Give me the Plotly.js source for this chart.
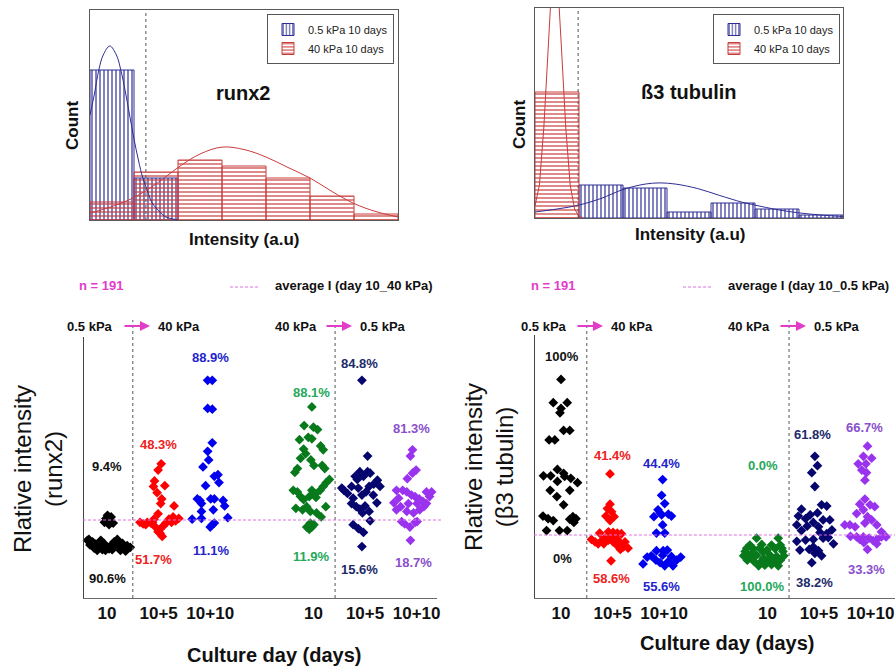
<!DOCTYPE html>
<html><head><meta charset="utf-8">
<script src="https://cdn.plot.ly/plotly-3.0.1.min.js"></script>
<style>html,body{margin:0;padding:0;background:#fff}#chart{width:895px;height:669px}</style>
</head><body><div id="chart"></div>
<script>
const W = 895, H = 669;
const FONT = 'Liberation Sans, Arial, sans-serif';

// ---------- histogram data (counts per intensity bin) ----------
const binCenters = [0.5, 1.5, 2.5, 3.5, 4.5, 5.5, 6.5];
const runx2Soft  = [50, 14, null, null, null, null, null];
const runx2Stiff = [6, 16, 20, 18, 14, 8, 2];
const b3Soft     = [null, 11, 10, 2, 5, 3, 1];
const b3Stiff    = [42, null, null, null, null, null, null];

// fitted distribution curves
const runx2SoftFitX  = [0, 0.1, 0.2, 0.3, 0.45, 0.6, 0.7, 0.8, 0.9, 1.0, 1.1, 1.2, 1.3, 1.4, 1.5, 1.6, 1.7, 1.8, 1.9, 2.0];
const runx2SoftFitY  = [35, 42, 50, 55, 58, 55, 50, 43, 35, 27, 20, 14, 10, 6, 4, 2.5, 1.2, 0.6, 0.3, 0];
const runx2StiffFitX = [0, 0.5, 1.0, 1.5, 2.0, 2.5, 3.0, 3.5, 4.0, 4.5, 5.0, 5.5, 6.0, 6.5, 7.0];
const runx2StiffFitY = [2.3, 4.5, 7.5, 12, 17.5, 22, 24.3, 23.5, 21, 17.5, 14, 9.5, 5.5, 2.8, 1];
const b3StiffFitX = [0, 0.1, 0.2, 0.3, 0.35, 0.45, 0.55, 0.6, 0.7, 0.8, 0.9, 1.0, 1.1];
const b3StiffFitY = [4, 11, 30, 57, 70, 82, 70, 57, 30, 11, 3, 0.6, 0];
const b3SoftFitX  = [0, 0.5, 1.0, 1.5, 2.0, 2.5, 2.84, 3.2, 3.7, 4.2, 4.7, 5.0, 5.5, 6.0, 6.5, 7.0];
const b3SoftFitY  = [2, 3, 4.3, 6.5, 9.5, 11.3, 11.7, 11.3, 9.8, 7.5, 5.3, 4.3, 2.8, 1.7, 1.0, 0.5];

// ---------- scatter data ----------
const catPos = [1, 2, 3, 5, 6, 7];
const catLabels = ['10', '10+5', '10+10', '10', '10+5', '10+10'];

// runx2 : jitter (category units) and relative intensity
const r2A_dx = [0.01,0.08,-0.02,-0.05,0.12,0.04,-0.35,-0.28,-0.33,-0.22,-0.15,-0.09,-0.25,-0.06,0.01,-0.03,0.07,0.14,0.20,0.17,0.23,0.30,0.33,0.39,0.45,0.10,0.26,0.36,-0.19,-0.12,0.04,-0.38];
const r2A_y  = [1.06,1.04,1.02,0.97,0.96,0.94,0.75,0.72,0.68,0.69,0.66,0.62,0.64,0.70,0.65,0.61,0.67,0.72,0.75,0.69,0.66,0.70,0.65,0.67,0.65,0.62,0.61,0.60,0.61,0.74,0.63,0.74];
const r2B_dx = [0.05,-0.01,-0.08,-0.10,0.12,-0.03,0.06,0.04,0.30,-0.01,0.28,0.39,-0.09,0.20,-0.36,-0.30,-0.22,-0.15,-0.06,0.04,0.14,0.25,-0.01,0.07,0.03,-0.25,-0.12,0.33,0.10];
const r2B_y  = [1.72,1.64,1.50,1.43,1.44,1.35,1.27,1.21,1.18,1.08,1.04,1.02,1.01,1.01,0.97,0.95,0.97,0.96,0.91,0.89,0.96,0.97,0.85,0.79,0.83,0.94,0.97,0.99,0.93];
const r2C_dx = [-0.05,0.04,-0.05,0.04,0.04,-0.05,-0.03,-0.14,0.08,0.15,0.17,-0.09,-0.25,-0.20,-0.17,0.01,0.08,0.25,0.28,-0.17,0.06,-0.35,-0.17,0.34,0.00,0.08,0.04];
const r2C_y  = [2.79,2.79,2.43,2.42,1.99,1.88,1.77,1.68,1.56,1.58,1.48,1.44,1.27,1.25,1.21,1.27,1.27,1.25,1.18,1.11,1.13,1.01,1.02,1.03,0.91,0.96,0.94];
const r2D_dx = [-0.03,-0.18,0.00,0.08,-0.03,-0.27,-0.10,0.14,0.19,-0.19,-0.15,-0.25,-0.05,0.01,0.17,0.22,-0.31,-0.36,0.31,0.25,-0.39,-0.31,-0.03,0.03,0.13,0.19,-0.25,-0.19,-0.08,0.05,0.24,-0.34,-0.21,0.06,0.15,-0.13,-0.06,-0.13,-0.08,-0.03,0.01,-0.06];
const r2D_y  = [2.45,2.21,2.19,2.16,2.04,2.03,2.06,1.95,1.90,1.91,1.85,1.79,1.77,1.70,1.70,1.66,1.66,1.61,1.52,1.48,1.38,1.36,1.38,1.33,1.38,1.43,1.30,1.26,1.30,1.29,1.17,1.15,1.13,1.09,1.04,1.17,1.11,0.91,0.88,0.91,0.94,0.96];
const r2E_dx = [-0.06,0.05,-0.10,0.05,0.10,-0.19,-0.15,-0.03,0.24,0.17,0.29,-0.45,-0.41,-0.34,-0.26,-0.13,0.08,0.02,-0.23,-0.06,0.16,0.23,-0.26,-0.17,-0.10,0.00,0.08,-0.05,-0.23,-0.13,-0.03,0.10,-0.06];
const r2E_y  = [2.79,1.82,1.62,1.62,1.60,1.56,1.52,1.56,1.51,1.46,1.43,1.41,1.38,1.34,1.43,1.41,1.43,1.36,1.28,1.32,1.32,1.22,1.21,1.17,1.14,1.18,1.11,1.09,0.94,0.89,0.84,0.99,0.66];
const r2F_dx = [-0.08,-0.12,-0.01,-0.08,-0.18,-0.39,-0.27,-0.19,0.19,0.29,-0.44,-0.35,-0.10,-0.03,0.05,0.12,0.19,0.25,0.01,-0.31,-0.16,-0.06,0.06,0.14,-0.19,-0.39,-0.29,-0.23,-0.13,-0.03,0.01,-0.12];
const r2F_y  = [1.90,1.82,1.64,1.60,1.53,1.38,1.38,1.36,1.36,1.36,1.22,1.28,1.32,1.30,1.27,1.24,1.21,1.30,1.21,1.17,1.21,1.09,1.13,1.17,1.11,1.13,0.98,0.95,0.91,0.97,0.98,0.74];

// beta3 tubulin
const b3A_dx = [0.00,-0.15,0.12,0.00,-0.02,0.05,0.17,-0.23,-0.12,-0.07,-0.34,-0.20,0.05,0.07,-0.07,0.19,0.32,-0.21,0.17,-0.08,0.05,-0.35,-0.25,-0.15,0.23,0.17,0.29,0.25,-0.28,-0.03,0.12];
const b3A_y  = [3.47,3.10,3.10,3.01,2.94,2.66,2.66,2.51,2.51,2.04,1.94,1.94,1.98,1.93,1.85,1.90,1.83,1.71,1.71,1.61,1.48,1.30,1.26,1.23,1.29,1.25,1.26,1.20,1.07,1.07,1.07];
const b3B_dx = [-0.05,-0.05,-0.10,-0.02,-0.13,0.03,-0.05,-0.25,-0.08,0.01,0.09,0.17,-0.41,-0.34,-0.28,-0.21,-0.15,-0.08,-0.02,0.01,0.09,0.14,0.21,0.30,0.24,0.08,0.15,-0.17,-0.03];
const b3B_y  = [1.97,1.49,1.42,1.37,1.30,1.29,1.23,1.03,1.05,1.04,1.03,1.02,0.93,0.89,0.86,0.91,0.95,0.92,0.97,0.89,0.93,0.87,0.81,0.79,0.89,0.84,0.77,0.86,0.59];
const b3C_dx = [-0.03,-0.05,0.01,-0.12,-0.20,-0.05,0.08,0.14,-0.03,-0.15,0.01,-0.08,-0.41,-0.33,-0.25,-0.16,-0.08,-0.15,-0.02,0.06,-0.03,0.08,0.14,0.24,0.32,0.01,0.17];
const b3C_y  = [1.88,1.63,1.50,1.40,1.29,1.32,1.33,1.30,1.16,1.03,1.03,1.35,0.54,0.65,0.67,0.60,0.56,0.75,0.75,0.76,0.68,0.58,0.66,0.60,0.65,0.51,0.51];
const b3D_dx = [-0.21,0.21,-0.34,-0.11,0.08,0.25,-0.43,-0.27,-0.15,-0.01,0.15,0.30,-0.46,-0.34,-0.21,-0.08,0.05,0.18,0.32,-0.39,-0.26,-0.13,0.00,0.12,0.25,-0.17,-0.05,0.08,0.21,-0.30,-0.08,0.28,-0.40,0.05];
const b3D_y  = [0.95,0.95,0.84,0.85,0.84,0.84,0.74,0.78,0.79,0.76,0.78,0.74,0.67,0.66,0.68,0.63,0.68,0.66,0.67,0.60,0.58,0.57,0.59,0.58,0.60,0.51,0.52,0.53,0.51,0.71,0.73,0.79,0.79,0.63];
const b3E_dx = [-0.08,-0.03,-0.14,-0.08,0.05,0.15,-0.34,-0.03,-0.17,-0.40,-0.26,0.08,0.21,-0.11,-0.43,-0.23,-0.01,-0.34,0.02,0.25,0.15,-0.43,-0.26,-0.11,0.08,0.18,-0.37,-0.19,-0.11,-0.01,0.05,-0.14,-0.08,0.28];
const b3E_y  = [2.25,2.10,1.99,1.77,1.48,1.46,1.41,1.35,1.32,1.30,1.26,1.24,1.24,1.20,1.16,1.14,1.13,1.07,1.04,1.08,1.02,0.90,0.92,0.93,0.95,0.96,0.76,0.77,0.81,0.75,0.67,0.56,0.71,0.86];
const b3F_dx = [-0.06,-0.14,0.02,-0.24,-0.09,-0.17,-0.08,-0.11,-0.11,-0.21,-0.01,0.08,-0.14,-0.27,-0.06,0.02,-0.50,-0.40,-0.30,-0.11,0.12,0.21,-0.21,-0.14,-0.03,0.12,0.30,-0.13,0.12,-0.06,0.21,0.05,-0.27,-0.39];
const b3F_y  = [2.41,2.25,2.22,2.13,2.13,2.03,1.99,1.87,1.57,1.49,1.48,1.45,1.40,1.34,1.29,1.24,1.16,1.16,1.13,1.19,1.16,1.05,0.93,0.97,0.95,0.93,0.97,0.88,0.86,0.77,0.97,0.91,0.97,0.98];

// percentages above / below the average line
const r2PctAbove = ['9.4%', '48.3%', '88.9%', '88.1%', '84.8%', '81.3%'];
const r2PctBelow = ['90.6%', '51.7%', '11.1%', '11.9%', '15.6%', '18.7%'];
const b3PctAbove = ['100%', '41.4%', '44.4%', '0.0%', '61.8%', '66.7%'];
const b3PctBelow = ['0%', '58.6%', '55.6%', '100.0%', '38.2%', '33.3%'];

// ---------- styling ----------
const markerColors = ['#000000', '#ff0000', '#0000ee', '#087a1c', '#06066e', '#9a33ee'];
const labelColors  = ['#111111', '#ee2222', '#2323cc', '#25a85a', '#1c2a6a', '#8a4fcc'];
const SOFT = '#2e2e96', STIFF = '#c83c3c', MAG = '#e23cc8', AVG = '#e070e0';

const P = px => px / W;
const Q = py => 1 - py / H;

const traces = [];
function histBar(y, name, xa, ya, leg, soft) {
  const c = soft ? SOFT : STIFF;
  return {type: 'bar', x: binCenters, y: y, width: 1, name: name, xaxis: xa, yaxis: ya, legend: leg,
    marker: {color: 'rgba(0,0,0,0)', line: {color: c, width: 1},
      pattern: {shape: soft ? '|' : '-', fgcolor: c, bgcolor: 'rgba(255,255,255,0)', size: 4, solidity: 0.3}},
    hoverinfo: 'skip'};
}
traces.push(histBar(runx2Soft, '0.5 kPa 10 days', 'x', 'y', 'legend', true));
traces.push(histBar(runx2Stiff, '40 kPa 10 days', 'x', 'y', 'legend', false));
traces.push(histBar(b3Soft, '0.5 kPa 10 days', 'x2', 'y2', 'legend2', true));
traces.push(histBar(b3Stiff, '40 kPa 10 days', 'x2', 'y2', 'legend2', false));
function fit(x, y, xa, ya, c, shape) {
  return {type: 'scatter', mode: 'lines', x: x, y: y, xaxis: xa, yaxis: ya, showlegend: false,
    line: {color: c, width: 1, shape: shape}, hoverinfo: 'skip'};
}
traces.push(fit(runx2SoftFitX, runx2SoftFitY, 'x', 'y', SOFT, 'spline'));
traces.push(fit(runx2StiffFitX, runx2StiffFitY, 'x', 'y', STIFF, 'spline'));
traces.push(fit(b3SoftFitX, b3SoftFitY, 'x2', 'y2', SOFT, 'spline'));
traces.push(fit(b3StiffFitX, b3StiffFitY, 'x2', 'y2', STIFF, 'linear'));

const r2Groups = [[r2A_dx, r2A_y], [r2B_dx, r2B_y], [r2C_dx, r2C_y], [r2D_dx, r2D_y], [r2E_dx, r2E_y], [r2F_dx, r2F_y]];
const b3Groups = [[b3A_dx, b3A_y], [b3B_dx, b3B_y], [b3C_dx, b3C_y], [b3D_dx, b3D_y], [b3E_dx, b3E_y], [b3F_dx, b3F_y]];
function swarm(groups, xa, ya) {
  groups.forEach((g, i) => {
    traces.push({type: 'scatter', mode: 'markers', x: g[0].map(d => catPos[i] + d), y: g[1],
      xaxis: xa, yaxis: ya, showlegend: false, cliponaxis: false,
      marker: {symbol: 'diamond', size: 7.5, color: markerColors[i]}, hoverinfo: 'skip'});
  });
}
swarm(r2Groups, 'x3', 'y3');
swarm(b3Groups, 'x4', 'y4');

// ---------- axes ----------
const histAxis = (dom, range, anchor) => ({domain: dom, range: range, anchor: anchor, showline: true, mirror: true,
  linecolor: '#5a5a5a', linewidth: 1, showticklabels: false, ticks: '', showgrid: false, zeroline: false, fixedrange: true});
const scatX = (dom, range, anchor) => ({domain: dom, range: range, anchor: anchor, showline: true, linecolor: '#6a6a6a',
  linewidth: 1, ticks: '', tickvals: catPos, ticktext: catLabels, ticklabelstandoff: 0,
  tickfont: {family: FONT, size: 17, weight: 'bold', color: '#111'}, showgrid: false, zeroline: false, fixedrange: true});
const scatY = (dom, range, anchor) => ({domain: dom, range: range, anchor: anchor, showline: true, linecolor: '#444',
  linewidth: 1, ticks: '', showticklabels: false, showgrid: false, zeroline: false, fixedrange: true});

// ---------- shapes ----------
const DASH = '3px,2px';
const shapes = [
  {type: 'line', xref: 'x', yref: 'y domain', x0: 1.27, x1: 1.27, y0: 0, y1: 1, line: {color: '#555', width: 1, dash: 'dot'}},
  {type: 'line', xref: 'x2', yref: 'y2 domain', x0: 0.98, x1: 0.98, y0: 0, y1: 1, line: {color: '#555', width: 1, dash: 'dot'}},
  {type: 'line', xref: 'x3', yref: 'y3 domain', x0: 1.5, x1: 1.5, y0: 0, y1: 1.065, line: {color: '#555', width: 1, dash: 'dot'}},
  {type: 'line', xref: 'x3', yref: 'y3 domain', x0: 5.42, x1: 5.42, y0: 0, y1: 1.065, line: {color: '#555', width: 1, dash: 'dot'}},
  {type: 'line', xref: 'x4', yref: 'y4 domain', x0: 1.5, x1: 1.5, y0: 0, y1: 1.057, line: {color: '#555', width: 1, dash: 'dot'}},
  {type: 'line', xref: 'x4', yref: 'y4 domain', x0: 5.42, x1: 5.42, y0: 0, y1: 1.057, line: {color: '#555', width: 1, dash: 'dot'}},
  {type: 'line', xref: 'x3 domain', yref: 'y3', x0: -0.003, x1: 1.015, y0: 1, y1: 1, line: {color: AVG, width: 1, dash: DASH}},
  {type: 'line', xref: 'x4 domain', yref: 'y4', x0: -0.003, x1: 1, y0: 1, y1: 1, line: {color: AVG, width: 1, dash: DASH}},
  {type: 'line', xref: 'paper', yref: 'paper', x0: P(230), x1: P(260), y0: Q(287), y1: Q(287), line: {color: AVG, width: 1, dash: DASH}},
  {type: 'line', xref: 'paper', yref: 'paper', x0: P(683), x1: P(713), y0: Q(287), y1: Q(287), line: {color: AVG, width: 1, dash: DASH}}
];

// ---------- annotations ----------
const ann = [];
function txt(text, x, y, size, opts) {
  opts = opts || {};
  ann.push(Object.assign({text: text, x: P(x), y: Q(y), xref: 'paper', yref: 'paper', showarrow: false,
    xanchor: 'center', yanchor: 'middle',
    font: {family: FONT, size: size, color: opts.color || '#111', weight: opts.weight || 'bold'}}, opts.extra || {}));
}
function arrow(xHead, y, len) {
  ann.push({text: '', x: P(xHead), y: Q(y), xref: 'paper', yref: 'paper', showarrow: true, ax: -len, ay: 0,
    axref: 'pixel', ayref: 'pixel', arrowhead: 2, arrowsize: 1, arrowwidth: 2, arrowcolor: MAG, standoff: 0});
}
// histogram texts
txt('runx2', 243, 93, 20);
txt('ß3 tubulin', 689, 92, 20);
txt('Count', 73, 126, 17, {extra: {textangle: -90}});
txt('Count', 519, 125, 17, {extra: {textangle: -90}});
txt('Intensity (a.u)', 244, 239, 17);
txt('Intensity (a.u)', 690, 235, 17);
// scatter headers
txt('n = 191', 101, 285, 13, {color: MAG});
txt('n = 191', 553, 285, 13, {color: MAG});
txt('average I (day 10_40 kPa)', 354, 285, 13);
txt('average I (day 10_0.5 kPa)', 808, 285, 13);
txt('0.5 kPa', 90, 326, 13); arrow(150, 326, 27); txt('40 kPa', 179, 326, 13);
txt('40 kPa', 296, 326, 13); arrow(352, 326, 27); txt('0.5 kPa', 383, 326, 13);
txt('0.5 kPa', 544, 326, 13); arrow(603, 326, 27); txt('40 kPa', 632, 326, 13);
txt('40 kPa', 749, 326, 13); arrow(806, 326, 27); txt('0.5 kPa', 837, 326, 13);
// axis titles
txt('Rlative intensity<br>(runx2)', 38, 469, 24, {weight: 'normal', extra: {textangle: -90}});
txt('Rlative intensity<br>(β3 tubulin)', 489, 467, 24, {weight: 'normal', extra: {textangle: -90}});
txt('Culture day (days)', 274, 655, 20);
txt('Culture day (days)', 727, 643, 20);

// percentage labels
function pct(text, xa, ya, x, y, c) {
  ann.push({text: text, x: x, y: y, xref: xa, yref: ya, showarrow: false, xanchor: 'center', yanchor: 'middle',
    font: {family: FONT, size: 13, weight: 'bold', color: c}});
}
const r2AboveXY = [[1.0, 1.68], [1.99, 1.97], [3.0, 3.08], [4.97, 2.64], [5.90, 3.01], [6.91, 2.17]];
const r2BelowXY = [[1.0, 0.256], [1.91, 0.49], [3.03, 0.615], [4.97, 0.53], [5.90, 0.37], [6.93, 0.45]];
const b3AboveXY = [[1.02, 3.83], [1.99, 2.27], [2.95, 2.14], [4.91, 2.11], [5.88, 2.59], [6.89, 2.71]];
const b3BelowXY = [[1.02, 0.635], [1.97, 0.317], [2.95, 0.19], [4.91, 0.175], [5.92, 0.254], [6.93, 0.46]];
for (let i = 0; i < 6; i++) {
  pct(r2PctAbove[i], 'x3', 'y3', r2AboveXY[i][0], r2AboveXY[i][1], labelColors[i]);
  pct(r2PctBelow[i], 'x3', 'y3', r2BelowXY[i][0], r2BelowXY[i][1], labelColors[i]);
  pct(b3PctAbove[i], 'x4', 'y4', b3AboveXY[i][0], b3AboveXY[i][1], labelColors[i]);
  pct(b3PctBelow[i], 'x4', 'y4', b3BelowXY[i][0], b3BelowXY[i][1], labelColors[i]);
}

const legendStyle = (x) => ({x: P(x), y: Q(14), xanchor: 'left', yanchor: 'top', bgcolor: '#ffffff',
  bordercolor: '#555', borderwidth: 1, font: {family: FONT, size: 11, color: '#222'}, itemwidth: 30, tracegroupgap: 0});

const layout = {
  width: W, height: H, margin: {l: 0, r: 0, t: 0, b: 0},
  paper_bgcolor: '#fff', plot_bgcolor: 'rgba(0,0,0,0)',
  font: {family: FONT, color: '#111'},
  barmode: 'overlay', showlegend: true,
  legend: legendStyle(267), legend2: legendStyle(713),
  xaxis: histAxis([P(90), P(398)], [0, 7], 'y'),
  yaxis: histAxis([Q(220), Q(10)], [0, 70], 'x'),
  xaxis2: histAxis([P(535), P(843)], [0, 7], 'y2'),
  yaxis2: histAxis([Q(218), Q(8)], [0, 70], 'x2'),
  xaxis3: scatX([P(84), P(437)], [0.554, 7.395], 'y3'),
  yaxis3: scatY([Q(598), Q(337)], [0, 3.346], 'x3'),
  xaxis4: scatX([P(535), 1], [0.496, 7.473], 'y4'),
  yaxis4: scatY([Q(598), Q(335)], [0, 4.175], 'x4'),
  shapes: shapes, annotations: ann
};
Plotly.newPlot('chart', traces, layout, {displayModeBar: false, staticPlot: true});
</script></body></html>
